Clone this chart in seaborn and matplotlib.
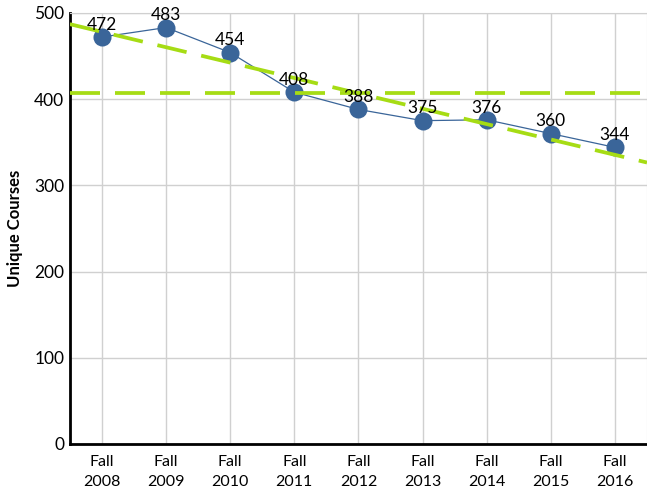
import numpy as np
import pandas as pd
import matplotlib
matplotlib.use('Agg')
import matplotlib.pyplot as plt
import seaborn as sns

# Data
terms = ['Fall\n2008', 'Fall\n2009', 'Fall\n2010', 'Fall\n2011', 'Fall\n2012',
         'Fall\n2013', 'Fall\n2014', 'Fall\n2015', 'Fall\n2016']
courses = [472, 483, 454, 408, 388, 375, 376, 360, 344]

df = pd.DataFrame({'term': terms, 'courses': courses})
df['pos'] = np.arange(len(df))

sns.set_style('white')
plt.rcParams['font.family'] = ['Lato', 'DejaVu Sans']
plt.rcParams['text.color'] = 'black'
plt.rcParams['xtick.color'] = 'black'
plt.rcParams['ytick.color'] = 'black'
plt.rcParams['axes.labelcolor'] = 'black'

fig = plt.figure(figsize=(6.47, 4.96), dpi=100)
ax = fig.add_axes([0.108, 0.105, 0.892, 0.869])

GREEN = '#a6dc14'
BLUE = '#3a6599'

ax.set_xlim(-0.5, 8.5)
ax.set_ylim(0, 500)

# trend line (linear fit, spans the whole axis) and average line
sns.regplot(x='pos', y='courses', data=df, ci=None, truncate=False,
            scatter=False, ax=ax,
            line_kws=dict(color=GREEN, lw=2.7, dashes=(8, 4), zorder=4))
ax.axhline(df['courses'].mean(), color=GREEN, lw=2.7, dashes=(8, 4), zorder=4)

sns.lineplot(x='pos', y='courses', data=df, ax=ax, color=BLUE, lw=0.9,
             marker='o', markersize=13, markeredgewidth=0,
             markerfacecolor=BLUE, zorder=3)

for x, y in zip(df['pos'], df['courses']):
    ax.annotate(str(y), (x, y), xytext=(0, 3), textcoords='offset points',
                ha='center', va='bottom', fontsize=12.5, zorder=5)

ax.set_xlim(-0.5, 8.5)
ax.set_ylim(0, 500)
ax.set_yticks(range(0, 501, 100))
ax.set_xticks(df['pos'])
ax.set_xticklabels(terms, fontsize=11.5, linespacing=1.5)
ax.tick_params(axis='y', labelsize=12.5, length=0, pad=4)
ax.tick_params(axis='x', length=0, pad=8)

ax.grid(True, color='#d0d0d0', lw=1)
ax.set_axisbelow(True)
for s in ['top', 'right']:
    ax.spines[s].set_color('#d0d0d0')
for s in ['left', 'bottom']:
    ax.spines[s].set_color('black')
    ax.spines[s].set_linewidth(2)

ax.set_xlabel('')
ax.set_ylabel('Unique Courses', fontsize=12, fontweight='bold', labelpad=8)

fig.savefig('out.png', dpi=100)
